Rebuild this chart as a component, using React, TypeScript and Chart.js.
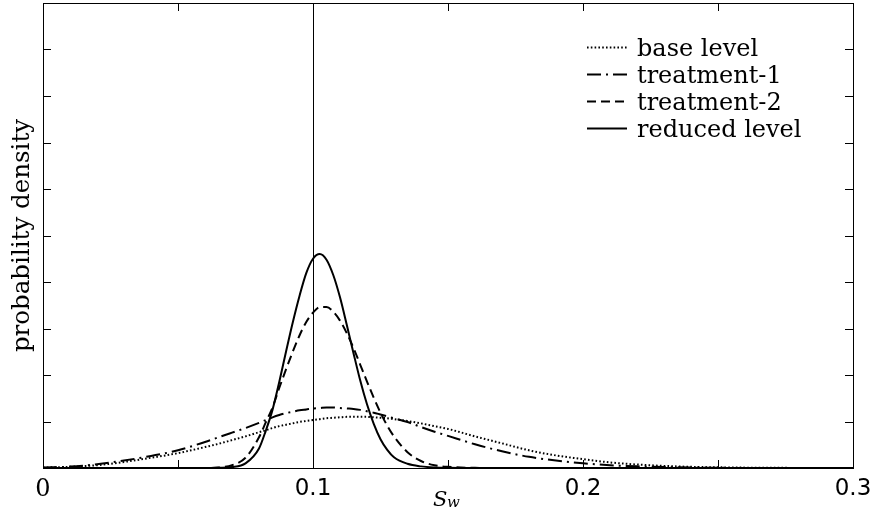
import React, { useEffect, useRef } from 'react';
import { Chart, registerables } from 'chart.js';

Chart.register(...registerables);

// Water saturation S_w sample positions
const xValues = [
  0, 0.01, 0.02, 0.03, 0.04, 0.05, 0.06, 0.065, 0.07, 0.075, 0.08, 0.0825, 0.085, 0.0875,
  0.09, 0.0925, 0.095, 0.0975, 0.1, 0.1025, 0.105, 0.1075, 0.11, 0.1125, 0.115, 0.1175,
  0.12, 0.1225, 0.125, 0.1275, 0.13, 0.135, 0.14, 0.145, 0.15, 0.16, 0.17, 0.18, 0.19,
  0.2, 0.21, 0.22, 0.23, 0.24, 0.25, 0.26, 0.27, 0.28, 0.29, 0.3,
];

const baseLevel = [
  0.01, 0.025, 0.06, 0.13, 0.22, 0.32, 0.45, 0.52, 0.6, 0.68, 0.77, 0.81, 0.86, 0.9,
  0.93, 0.96, 0.99, 1.01, 1.03, 1.05, 1.07, 1.08, 1.09, 1.1, 1.1, 1.1,
  1.1, 1.09, 1.08, 1.07, 1.05, 1.01, 0.96, 0.9, 0.84, 0.68, 0.53, 0.38, 0.27,
  0.19, 0.12, 0.075, 0.045, 0.025, 0.015, 0.008, 0.004, 0.002, 0, 0,
];

const treatment1 = [
  0.01, 0.03, 0.08, 0.16, 0.26, 0.38, 0.56, 0.66, 0.76, 0.86, 0.97, 1.03, 1.09, 1.14,
  1.18, 1.21, 1.24, 1.26, 1.28, 1.29, 1.3, 1.3, 1.29, 1.28, 1.27, 1.25,
  1.22, 1.19, 1.15, 1.11, 1.07, 0.99, 0.88, 0.78, 0.69, 0.51, 0.36, 0.24, 0.16,
  0.1, 0.06, 0.035, 0.02, 0.01, 0.005, 0, 0, 0, 0, 0,
];

const treatment2 = [
  0, 0, 0, 0, 0, 0, 0, 0.01, 0.06, 0.22, 0.66, 0.98, 1.3, 1.72,
  2.12, 2.5, 2.85, 3.14, 3.34, 3.46, 3.46, 3.36, 3.17, 2.9, 2.58, 2.22,
  1.86, 1.51, 1.19, 0.91, 0.68, 0.34, 0.15, 0.06, 0.025, 0.003, 0, 0, 0,
  0, 0, 0, 0, 0, 0, 0, 0, 0, 0, 0,
];

const reducedLevel = [
  0, 0, 0, 0, 0, 0, 0, 0.005, 0.02, 0.1, 0.42, 0.8, 1.25, 1.85,
  2.5, 3.13, 3.7, 4.19, 4.5, 4.6, 4.48, 4.15, 3.67, 3.08, 2.47, 1.88,
  1.37, 0.95, 0.62, 0.39, 0.23, 0.09, 0.035, 0.012, 0.004, 0, 0, 0, 0,
  0, 0, 0, 0, 0, 0, 0, 0, 0, 0, 0,
];

const seriesLabels = ['base level', 'treatment-1', 'treatment-2', 'reduced level'];
const seriesDashes = [[1.6, 2.2], [14, 5, 2, 5], [9, 5], []];
const xTickValues = [0, 0.05, 0.1, 0.15, 0.2, 0.25, 0.3];
const xTickLabels = ['0', '', '0.1', '', '0.2', '', '0.3'];
const yTickValues = [0, 1, 2, 3, 4, 5, 6, 7, 8, 9, 10];
const referenceX = 0.1;
const yTitle = 'probability density';

const framePlugin = {
  id: 'frameAndExtras',
  afterDatasetsDraw(chart: any) {
    const { ctx, chartArea, scales } = chart;
    const { left, right, top, bottom } = chartArea;
    const xs = scales.x;
    const ys = scales.y;
    ctx.save();
    ctx.strokeStyle = '#000';
    ctx.lineWidth = 1;
    ctx.setLineDash([]);
    // reference vertical line
    const rx = Math.round(xs.getPixelForValue(referenceX)) + 0.5;
    ctx.beginPath();
    ctx.moveTo(rx, top);
    ctx.lineTo(rx, bottom);
    ctx.stroke();
    // frame
    ctx.strokeRect(Math.round(left) + 0.5, Math.round(top) + 0.5, Math.round(right - left), Math.round(bottom - top));
    // inward ticks
    const tl = 8;
    ctx.beginPath();
    for (const v of xTickValues) {
      const px = Math.round(xs.getPixelForValue(v)) + 0.5;
      ctx.moveTo(px, bottom);
      ctx.lineTo(px, bottom - tl);
      ctx.moveTo(px, top);
      ctx.lineTo(px, top + tl);
    }
    for (const v of yTickValues) {
      const py = Math.round(ys.getPixelForValue(v)) + 0.5;
      ctx.moveTo(left, py);
      ctx.lineTo(left + tl, py);
      ctx.moveTo(right, py);
      ctx.lineTo(right - tl, py);
    }
    ctx.stroke();

    // legend
    const ds = chart.data.datasets;
    ds.forEach((d: any, i: number) => {
      const ly = 47.5 + i * 27;
      ctx.beginPath();
      ctx.setLineDash(d.borderDash || []);
      ctx.lineWidth = d.borderWidth;
      ctx.strokeStyle = d.borderColor;
      ctx.moveTo(587, ly);
      ctx.lineTo(627, ly);
      ctx.stroke();
      ctx.setLineDash([]);
      ctx.fillStyle = '#000';
      ctx.font = '24px "DejaVu Serif"';
      ctx.textAlign = 'left';
      ctx.textBaseline = 'alphabetic';
      ctx.fillText(d.label, 637, ly + 8.5);
    });

    // x axis title S_w
    ctx.fillStyle = '#000';
    ctx.textBaseline = 'alphabetic';
    ctx.textAlign = 'left';
    ctx.font = 'italic 21px "DejaVu Serif"';
    ctx.fillText('S', 433, 506);
    ctx.font = 'italic 15px "DejaVu Serif"';
    ctx.fillText('w', 447, 507);
    ctx.restore();
  },
};

export default function App() {
  const canvasRef = useRef<HTMLCanvasElement | null>(null);

  useEffect(() => {
    const canvas = canvasRef.current;
    if (!canvas) return;
    const series = [baseLevel, treatment1, treatment2, reducedLevel];
    const chart = new Chart(canvas, {
      type: 'line',
      data: {
        datasets: series.map((arr, i) => ({
          label: seriesLabels[i],
          data: xValues.map((x, j) => ({ x, y: arr[j] })),
          borderColor: '#000',
          borderWidth: 2,
          borderDash: seriesDashes[i],
          pointRadius: 0,
          fill: false,
          cubicInterpolationMode: 'monotone',
        })),
      },
      options: {
        animation: false,
        responsive: false,
        maintainAspectRatio: false,
        layout: { padding: { top: 3, right: 22, left: 0, bottom: 0 } },
        plugins: {
          legend: { display: false },
          tooltip: { enabled: false },
        },
        scales: {
          x: {
            type: 'linear',
            min: 0,
            max: 0.3,
            grid: { display: false, drawTicks: false },
            border: { display: false },
            afterFit: (s: any) => {
              s.height = 47;
              s.paddingLeft = 0;
              s.paddingRight = 0;
            },
            afterBuildTicks: (s: any) => {
              s.ticks = xTickValues.map((v) => ({ value: v }));
            },
            ticks: {
              autoSkip: false,
              maxRotation: 0,
              padding: 7,
              color: '#000',
              font: (c: any) =>
                c.tick && c.tick.value === 0
                  ? { family: 'DejaVu Serif', size: 24 }
                  : { family: 'DejaVu Sans', size: 23 },
              callback: (v: any) => {
                const idx = xTickValues.findIndex((t) => Math.abs(t - Number(v)) < 1e-9);
                return idx >= 0 ? xTickLabels[idx] : '';
              },
            },
          },
          y: {
            type: 'linear',
            min: 0,
            max: 10,
            grid: { display: false, drawTicks: false },
            border: { display: false },
            ticks: { display: false, stepSize: 1 },
            afterFit: (s: any) => {
              s.width = 43;
              s.paddingTop = 0;
              s.paddingBottom = 0;
            },
            title: {
              display: true,
              text: yTitle,
              color: '#000',
              font: { family: 'DejaVu Serif', size: 24.5 },
              padding: { top: 8, bottom: 0 },
            },
          },
        },
      },
      plugins: [framePlugin],
    });
    return () => chart.destroy();
  }, []);

  return (
    <div style={{ position: 'fixed', left: 0, top: 0, width: 875, height: 515, background: '#fff' }}>
      <canvas ref={canvasRef} width={875} height={515} style={{ display: 'block', width: 875, height: 515 }} />
    </div>
  );
}
